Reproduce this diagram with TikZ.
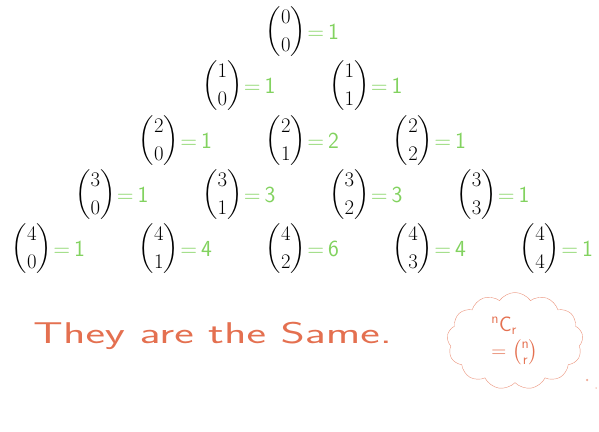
\documentclass[tikz,border=0pt]{standalone}
\usepackage{amsmath}
\usepackage{amssymb}
\usepackage{xcolor}
\usepackage{tikz}
\usetikzlibrary{positioning,shapes.symbols}

\definecolor{valgreen}{RGB}{130,210,95}
\definecolor{notered}{RGB}{228,112,80}

\begin{document}
\begin{tikzpicture}[
x=1pt,
y=-1pt,
binom/.style={
font=\huge,
inner sep=0pt
},
value/.style={
text=valgreen,
font=\fontsize{23}{27}\sffamily,
inner sep=1pt
},
note/.style={
text=notered,
font=\fontsize{30}{34}\sffamily,
inner sep=0pt
},
bubble/.style={
cloud,
draw=notered!75,
cloud puffs=13,
cloud puff arc=110,
aspect=1.4,
inner sep=0pt,
minimum width=136pt,
minimum height=97pt,
text=notered,
font=\fontsize{21}{24}\sffamily,
align=left
},
puffdot/.style={
circle,
fill=notered!60,
inner sep=0pt,
minimum size=2.5pt
}
]

\useasboundingbox (0,0) rectangle (599,431);

% Pascal triangle of binomials
\foreach \n/\y in {0/32,1/86,2/141,3/195,4/249}{
  \foreach \k in {0,...,\n}{
    \pgfmathtruncatemacro\val{factorial(\n)/(factorial(\k)*factorial(\n-\k))}
    \node[binom] (b-\n-\k) at ({286+(\k-\n/2)*127},\y) {$\dbinom{\n}{\k}$};
    \node[value, right=0pt of b-\n-\k] (v-\n-\k) {=\,\val};
  }
}

\node[note, anchor=base west] (same) at (33,343) {\scalebox{1.55}[1]{They are the Same.}};

\node[bubble] (cloudnote) at (515,341) {$^{\mathsf{n}}\mathsf{C}_{\mathsf{r}}$\\[2pt] $=\binom{\mathsf{n}}{\mathsf{r}}$};
\node[puffdot] (tail1) at (587,380) {};
\node[puffdot, minimum size=1.5pt] (tail2) at (596,388) {};

\end{tikzpicture}
\end{document}
